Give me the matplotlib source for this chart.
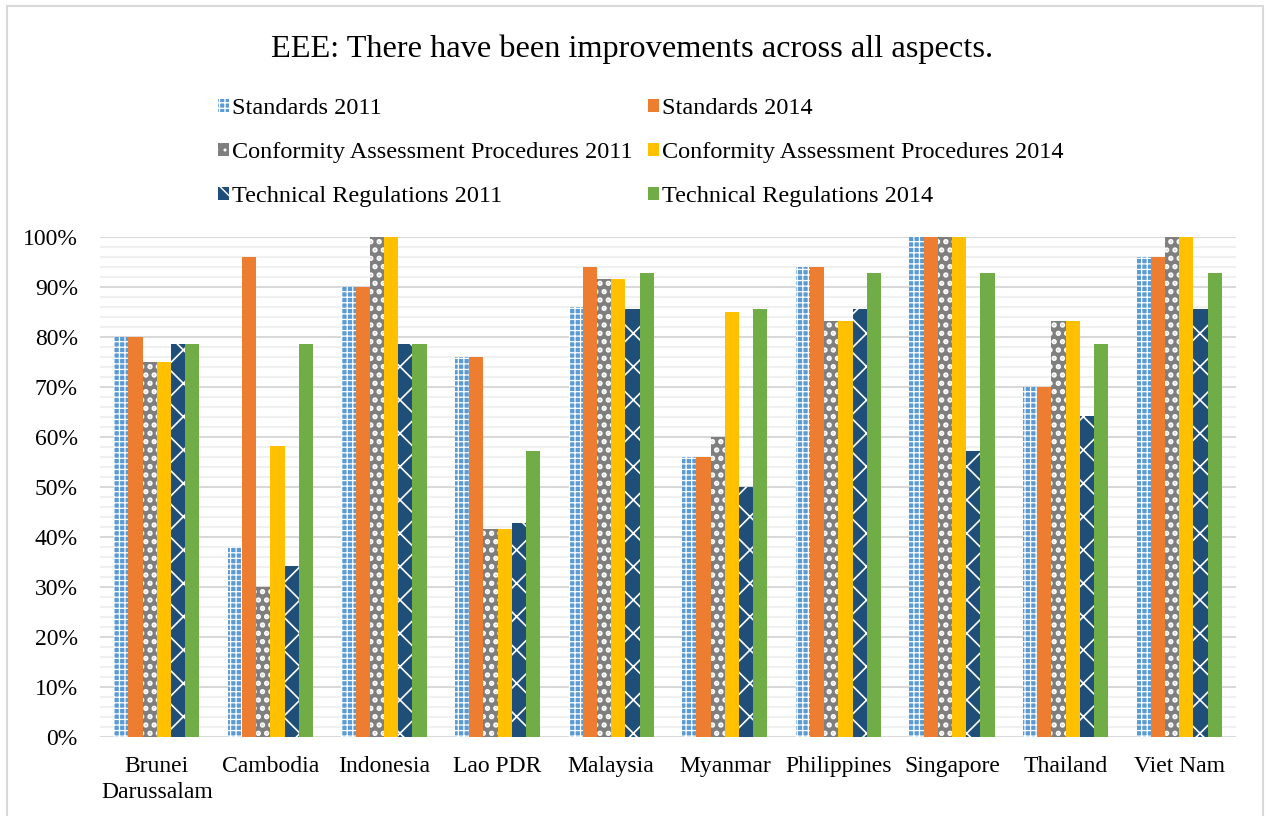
import numpy as np
import matplotlib
matplotlib.use('Agg')
import matplotlib.pyplot as plt
from matplotlib.ticker import MultipleLocator, PercentFormatter

plt.rcParams['font.family'] = ['Liberation Serif', 'DejaVu Serif']
plt.rcParams['hatch.color'] = 'white'

countries = ['Brunei\nDarussalam', 'Cambodia', 'Indonesia', 'Lao PDR', 'Malaysia',
             'Myanmar', 'Philippines', 'Singapore', 'Thailand', 'Viet Nam']

# shares in percent
std_2011 = [80, 38, 90, 76, 86, 56, 94, 100, 70, 96]
std_2014 = [80, 96, 90, 76, 94, 56, 94, 100, 70, 96]
cap_2011 = [75, 30, 100, 41.7, 91.7, 60, 83.3, 100, 83.3, 100]
cap_2014 = [75, 58.3, 100, 41.7, 91.7, 85, 83.3, 100, 83.3, 100]
tr_2011 = [78.6, 34.3, 78.6, 42.9, 85.7, 50, 85.7, 57.1, 64.3, 85.7]
tr_2014 = [78.6, 78.6, 78.6, 57.1, 92.9, 85.7, 92.9, 92.9, 78.6, 92.9]

# name, values, colour, hatch, hatch line width
series = [
    ('Standards 2011', std_2011, '#5B9BD5', '+++', 0.9),
    ('Standards 2014', std_2014, '#ED7D31', None, 1.0),
    ('Conformity Assessment Procedures 2011', cap_2011, '#7F7F7F', '..', 2.6),
    ('Conformity Assessment Procedures 2014', cap_2014, '#FFC000', None, 1.0),
    ('Technical Regulations 2011', tr_2011, '#1F4E79', 'x', 1.2),
    ('Technical Regulations 2014', tr_2014, '#70AD47', None, 1.0),
]

fig = plt.figure(figsize=(12.65, 8.16), dpi=100)
ax = fig.add_axes([100/1265, 1-737/816, 1136/1265, 500/816])

x = np.arange(len(countries))
w = 0.125
handles = []
for i, (name, vals, col, hatch, hlw) in enumerate(series):
    pos = x + (i - 2.5) * w
    with plt.rc_context({'hatch.linewidth': hlw}):
        b = ax.bar(pos, np.array(vals) / 100, w, color=col, hatch=hatch,
                   linewidth=0, label=name, zorder=3)
    handles.append(b)

ax.set_xlim(-0.5, len(countries) - 0.5)
ax.set_ylim(0, 1)
ax.yaxis.set_major_locator(MultipleLocator(0.1))
ax.yaxis.set_minor_locator(MultipleLocator(0.02))
ax.yaxis.set_major_formatter(PercentFormatter(1.0, decimals=0))
ax.grid(axis='y', which='minor', color='#f0f0f0', linewidth=1.5, zorder=0)
ax.grid(axis='y', which='major', color='#d9d9d9', linewidth=1.5, zorder=1)
for s in ax.spines.values():
    s.set_visible(False)
ax.tick_params(axis='both', which='both', length=0, labelsize=17)
ax.tick_params(axis='y', pad=16)
ax.tick_params(axis='x', pad=14)
ax.set_xticks(x)
ax.set_xticklabels(countries, linespacing=1.3)

fig.text(0.5, 1-49/816, 'EEE: There have been improvements across all aspects.',
         ha='center', va='center', fontsize=23.3)

order = [0, 2, 4, 1, 3, 5]
fig.legend([handles[k] for k in order], [series[k][0] for k in order],
           ncol=2, loc='upper center', bbox_to_anchor=(0.5064, 1-76/816),
           frameon=False, fontsize=17.5, handlelength=0.45, handleheight=0.45,
           handletextpad=0.12, columnspacing=0.65, labelspacing=0.95)

# light frame round the whole chart
fig.patches.append(plt.Rectangle((7/1265, -0.01), 1256/1265, 1-6/816 + 0.01,
                                 transform=fig.transFigure, fill=False,
                                 edgecolor='#d9d9d9', linewidth=1.5))

fig.savefig('out.png', dpi=100)
